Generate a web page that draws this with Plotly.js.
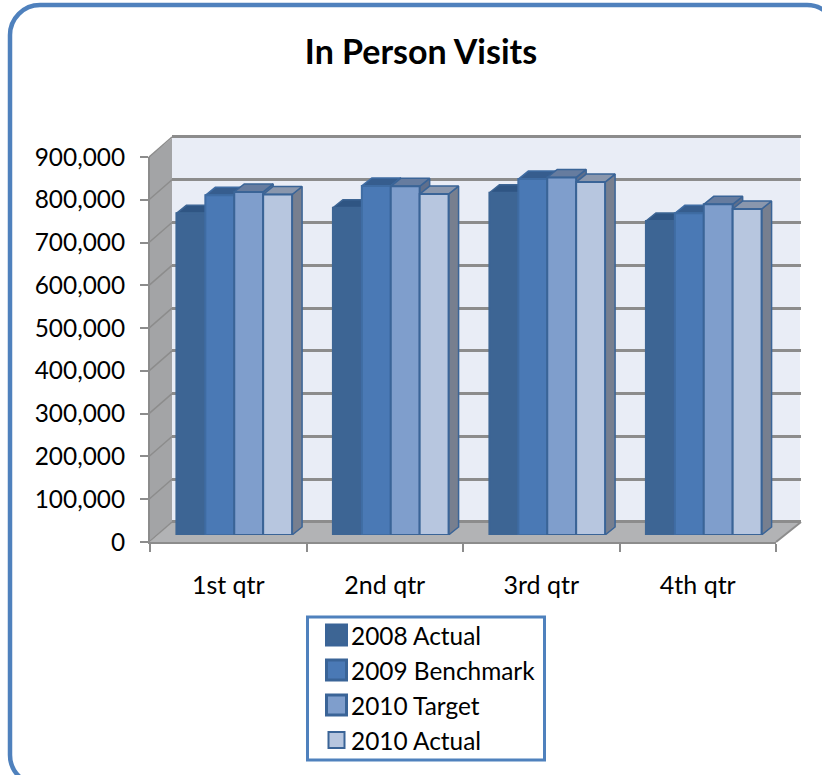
<!DOCTYPE html>
<html>
<head>
<meta charset="utf-8">
<script src="https://cdn.plot.ly/plotly-3.0.1.min.js"></script>
<style>html,body{margin:0;padding:0;background:#fff}</style>
</head>
<body>
<div id="chart" style="width:822px;height:775px"></div>
<script>
const categories = ['1st qtr', '2nd qtr', '3rd qtr', '4th qtr'];
const seriesNames = ['2008 Actual', '2009 Benchmark', '2010 Target', '2010 Actual'];
const actual2008 = [752000, 765000, 800000, 734000];
const benchmark2009 = [794000, 816000, 832000, 752000];
const target2010 = [802000, 815000, 836000, 773000];
const actual2010 = [796000, 797000, 825000, 762000];
const yTicks = [0, 100000, 200000, 300000, 400000, 500000, 600000, 700000, 800000, 900000];
const yTickText = ['0', '100,000', '200,000', '300,000', '400,000', '500,000', '600,000', '700,000', '800,000', '900,000'];
const allSeries = [actual2008, benchmark2009, target2010, actual2010];

const frontColors = ['#3d6594', '#4a79b5', '#7f9ecc', '#b7c6df'];
const topColors = ['#2f5583', '#365d8e', '#667c9f', '#8a97ad'];
const sideColors = ['#2f5583', '#365d8e', '#5f6f8c', '#777f8f'];
const edgeColors = ['#3d6594', '#3f6ca3', '#3a6497', '#3a6497'];
const edge = '#3a6497';
const gray = '#8c8c8c';
const FONT = 'Lato, Carlito, Calibri, sans-serif';

const W = 822, H = 775;
const X = p => p / W, Y = p => 1 - p / H;
const YMAX = 900000, PAD = 8000;

// three parallel planes of the oblique projection (pixels)
const front = {l: 150, r: 776, b: 542};
const back = {l: 172, r: 801, b: 522};
const barPlane = {l: 156, r: 782, b: 535};
const pxPerValue = (542 - 157) / YMAX;
const pxPerCat = (front.r - front.l) / 4;
const depthX = 10 / pxPerCat, depthY = 8 / pxPerValue;
const GAP = 0.261, barW = (1 - GAP) / 4;

const domX = pl => [X(pl.l), X(pl.r)];
const domY = pl => [Y(pl.b), Y(pl.b - YMAX * pxPerValue)];
// back plane padded slightly so the 0 and 900,000 gridlines are kept
const backDomY = [Y(back.b + PAD * pxPerValue), Y(back.b - (YMAX + PAD) * pxPerValue)];

const traces = [];
traces.push({type: 'scatter', mode: 'none', x: categories, y: [0, 0, 0, 0], xaxis: 'x', yaxis: 'y', hoverinfo: 'skip', showlegend: false});
traces.push({type: 'scatter', mode: 'none', x: categories, y: [0, 0, 0, 0], xaxis: 'x2', yaxis: 'y2', hoverinfo: 'skip', showlegend: false});

// visible depth faces of every bar, derived from the values
allSeries.forEach((vals, s) => {
  const tx = [], ty = [], sx = [], sy = [];
  vals.forEach((v, i) => {
    const x0 = i - (1 - GAP) / 2 + s * barW, x1 = x0 + barW;
    tx.push(x0, x0 + depthX, x1 + depthX, x1, x0, null);
    ty.push(v, v + depthY, v + depthY, v, v, null);
    sx.push(x1, x1 + depthX, x1 + depthX, x1, x1, null);
    sy.push(v, v + depthY, depthY, 0, v, null);
  });
  traces.push({type: 'scatter', mode: 'lines', x: sx, y: sy, fill: 'toself', fillcolor: sideColors[s],
    line: {color: edgeColors[s], width: 1.5}, xaxis: 'x3', yaxis: 'y3', hoverinfo: 'skip', showlegend: false});
  traces.push({type: 'scatter', mode: 'lines', x: tx, y: ty, fill: 'toself', fillcolor: topColors[s],
    line: {color: edgeColors[s], width: 1.5}, xaxis: 'x3', yaxis: 'y3', hoverinfo: 'skip', showlegend: false});
});

// front faces of the bars
allSeries.forEach((vals, s) => {
  traces.push({type: 'bar', name: seriesNames[s], x: categories, y: vals, xaxis: 'x4', yaxis: 'y4',
    marker: {color: frontColors[s], line: {color: edgeColors[s], width: 2}}, showlegend: false});
});

// walls, floor, frame, legend
const poly = pts => 'M' + pts.map(p => X(p[0]) + ',' + Y(p[1])).join('L') + 'Z';
const shapes = [];
const paper = {xref: 'paper', yref: 'paper'};
shapes.push({...paper, type: 'rect', layer: 'below', x0: X(172), x1: X(800), y0: Y(522), y1: Y(138), fillcolor: '#e9edf6', line: {width: 0}});
shapes.push({...paper, type: 'path', layer: 'below', path: poly([[149, 157], [172, 138], [172, 522], [149, 542]]), fillcolor: '#a3a4a6', line: {width: 0}});
shapes.push({...paper, type: 'path', layer: 'below', path: poly([[150, 542], [172, 522], [800, 522], [776, 542]]), fillcolor: '#b2b3b5', line: {width: 0}});
yTicks.forEach(t => {
  const py = front.b - t * pxPerValue;
  shapes.push({...paper, type: 'line', layer: 'below', x0: X(149), x1: X(172), y0: Y(py), y1: Y(py - 20), line: {color: gray, width: 1.5}});
});
shapes.push({...paper, type: 'line', layer: 'below', x0: X(776), x1: X(801), y0: Y(542), y1: Y(522), line: {color: gray, width: 2}});

const fl = 10, ft = 5, fr = 837, fb = 785, rad = 30;
const pt = (x, y) => X(x) + ',' + Y(y);
shapes.push({...paper, type: 'path', layer: 'above', line: {color: '#4f81bd', width: 4.5},
  path: 'M' + pt(fl + rad, ft) + 'L' + pt(fr - rad, ft) +
    'C' + pt(fr - rad * 0.45, ft) + ' ' + pt(fr, ft + rad * 0.45) + ' ' + pt(fr, ft + rad) +
    'L' + pt(fr, fb - rad) +
    'C' + pt(fr, fb - rad * 0.45) + ' ' + pt(fr - rad * 0.45, fb) + ' ' + pt(fr - rad, fb) +
    'L' + pt(fl + rad, fb) +
    'C' + pt(fl + rad * 0.45, fb) + ' ' + pt(fl, fb - rad * 0.45) + ' ' + pt(fl, fb - rad) +
    'L' + pt(fl, ft + rad) +
    'C' + pt(fl, ft + rad * 0.45) + ' ' + pt(fl + rad * 0.45, ft) + ' ' + pt(fl + rad, ft) + 'Z'});

shapes.push({...paper, type: 'rect', layer: 'above', x0: X(307.5), x1: X(544.5), y0: Y(617), y1: Y(760), fillcolor: '#fff', line: {color: '#4f81bd', width: 3}});
const legendY = [635, 670, 705, 740];
const keyHalf = [10, 10, 10, 8];
const annotations = [];
seriesNames.forEach((n, s) => {
  const cx = 336.5, cy = legendY[s], h = keyHalf[s];
  shapes.push({...paper, type: 'rect', layer: 'above', x0: X(cx - h), x1: X(cx + h), y0: Y(cy - h), y1: Y(cy + h),
    fillcolor: frontColors[s], line: {color: edge, width: s === 3 ? 2 : 3}});
  annotations.push({xref: 'paper', yref: 'paper', x: X(349), y: Y(cy), xanchor: 'left', yanchor: 'middle', showarrow: false,
    text: n, font: {family: FONT, size: 24.4, color: '#000'}});
});

const layout = {
  width: W, height: H, margin: {l: 0, r: 0, t: 0, b: 0, pad: 0}, showlegend: false,
  paper_bgcolor: '#fff', plot_bgcolor: 'rgba(0,0,0,0)',
  font: {family: FONT, size: 24, color: '#000'},
  title: {text: '<b>In Person Visits</b>', x: X(421), xref: 'paper', xanchor: 'center', y: Y(52), yref: 'paper', yanchor: 'middle',
    font: {family: FONT, size: 34, color: '#000'}},
  barmode: 'group', bargap: GAP, bargroupgap: 0,
  // back wall with its gridlines
  xaxis: {domain: domX(back), anchor: 'y', visible: false, type: 'category', categoryorder: 'array', categoryarray: categories, range: [-0.5, 3.5], showgrid: false, zeroline: false},
  yaxis: {domain: backDomY, anchor: 'x', range: [-PAD, YMAX + PAD], tickvals: yTicks, showticklabels: false, ticks: '', showgrid: true, gridcolor: gray, gridwidth: 2.5, zeroline: false, showline: false},
  // front axes with ticks and labels
  xaxis2: {domain: domX(front), anchor: 'y2', type: 'category', categoryorder: 'array', categoryarray: categories, range: [-0.5, 3.5], tickson: 'boundaries',
    ticks: 'outside', ticklen: 8, tickwidth: 2, tickcolor: gray, showline: true, linecolor: gray, linewidth: 2, showgrid: false, zeroline: false, ticklabelstandoff: 20,
    tickfont: {family: FONT, size: 25, color: '#000'}},
  yaxis2: {domain: domY(front), anchor: 'x2', range: [0, YMAX], tickvals: yTicks, ticktext: yTickText,
    ticks: 'outside', ticklen: 8, tickwidth: 2, tickcolor: gray, showline: true, linecolor: gray, linewidth: 2, showgrid: false, zeroline: false, ticklabelstandoff: 10,
    tickfont: {family: FONT, size: 24.4, color: '#000'}},
  // depth faces
  xaxis3: {domain: domX(barPlane), anchor: 'y3', visible: false, range: [-0.5, 3.5], fixedrange: true},
  yaxis3: {domain: domY(barPlane), anchor: 'x3', visible: false, range: [0, YMAX], fixedrange: true},
  // front faces
  xaxis4: {domain: domX(barPlane), anchor: 'y4', visible: false, type: 'category', categoryorder: 'array', categoryarray: categories, range: [-0.5, 3.5]},
  yaxis4: {domain: domY(barPlane), anchor: 'x4', visible: false, range: [0, YMAX]},
  shapes, annotations
};
Plotly.newPlot('chart', traces, layout, {displayModeBar: false, responsive: false});
</script>
</body>
</html>
